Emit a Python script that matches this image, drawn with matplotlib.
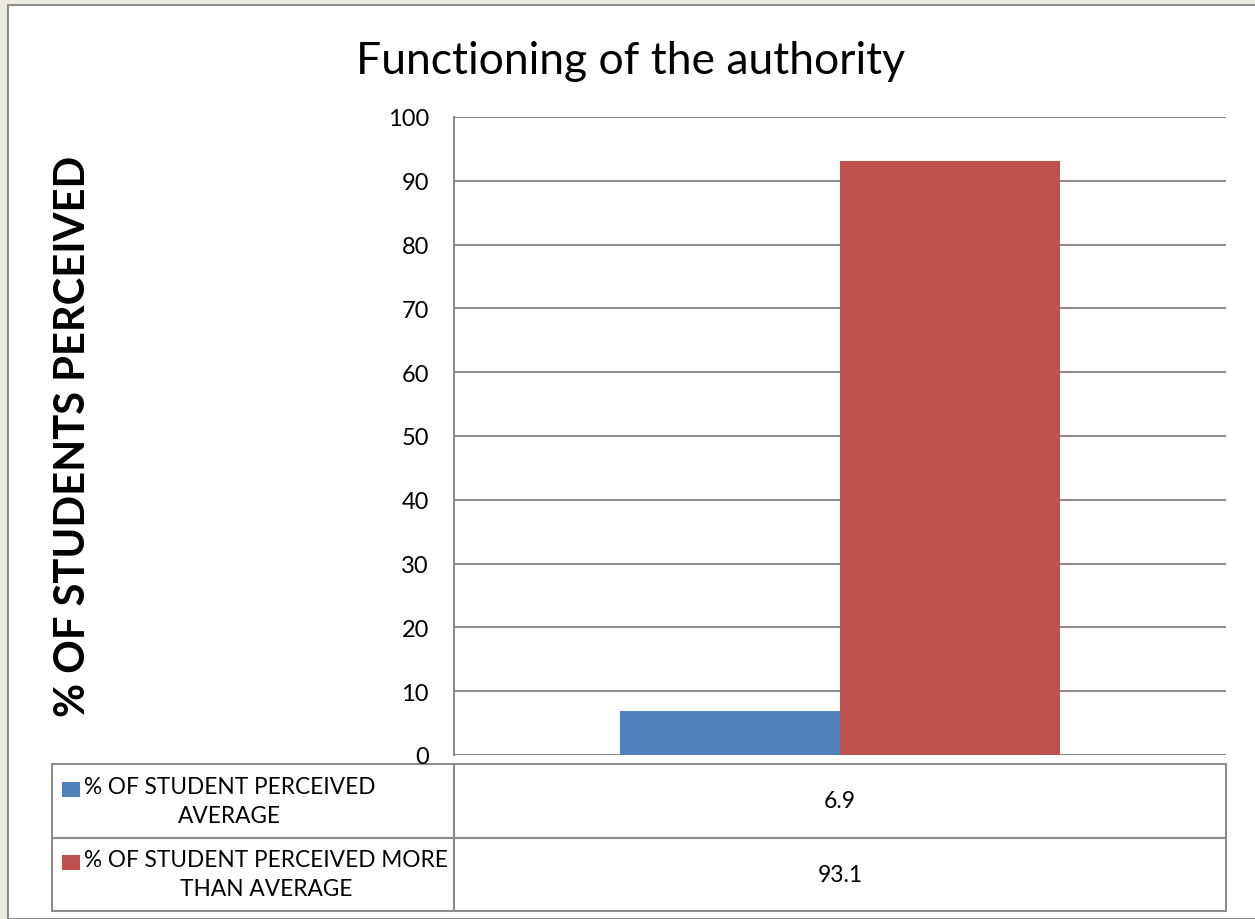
import matplotlib.pyplot as plt
from matplotlib.patches import Rectangle

# datos
series = ["% OF STUDENT PERCEIVED AVERAGE", "% OF STUDENT PERCEIVED MORE THAN AVERAGE"]
etiquetas = ["% OF STUDENT PERCEIVED\nAVERAGE", "% OF STUDENT PERCEIVED MORE\nTHAN AVERAGE"]
valores = [6.9, 93.1]
colores = ["#4F81BD", "#C0504D"]
yticks = [0, 10, 20, 30, 40, 50, 60, 70, 80, 90, 100]

plt.rcParams["font.family"] = ["Lato", "DejaVu Sans"]

W, H = 1255, 920
fig = plt.figure(figsize=(W / 100, H / 100), dpi=100)
fig.patch.set_facecolor("#EEEBE0")

# marco blanco
fig.patches.append(Rectangle((8 / W, 0), 1, 1 - 6 / H, transform=fig.transFigure,
                             facecolor="white", edgecolor="#8C8C8C", linewidth=1.5,
                             zorder=-10))

x0, x1, ytop, ybot = 454, 1226, 118, 756
ax = fig.add_axes([x0 / W, 1 - ybot / H, (x1 - x0) / W, (ybot - ytop) / H])
ax.set_facecolor("white")

ancho = 220 / (x1 - x0)
ax.bar(0 - ancho / 2, valores[0], width=ancho, color=colores[0], zorder=3)
ax.bar(0 + ancho / 2, valores[1], width=ancho, color=colores[1], zorder=3)
ax.set_xlim(-0.5, 0.5)
ax.set_ylim(0, 100)
ax.set_yticks(yticks)
ax.set_yticklabels([str(t) for t in yticks], fontsize=17)
ax.set_xticks([])
ax.grid(axis="y", color="#8C8C8C", linewidth=1.5, zorder=0)
ax.tick_params(axis="y", length=0, pad=18)
for s in ["top", "right", "bottom"]:
    ax.spines[s].set_visible(False)
ax.spines["left"].set_color("#8C8C8C")
ax.spines["left"].set_linewidth(1.5)

ax.set_title("Functioning of the authority", fontsize=32, pad=32, x=0.229)

fig.text(73 / W, 1 - 436 / H, "% OF STUDENTS PERCEIVED", rotation=90,
         fontsize=30, fontweight="bold", ha="center", va="center")

# tabla de datos
h = ybot - ytop
t_left = (52 - x0) / (x1 - x0)
t_top = (ybot - 765) / h
t_bot = (ybot - 912) / h
tabla = ax.table(cellText=[["", f"{v:g}"] for v in valores],
                 colWidths=[(x0 - 52) / (x1 - 52), (x1 - x0) / (x1 - 52)],
                 bbox=[t_left, t_bot, 1 - t_left, t_top - t_bot],
                 cellLoc="center")
tabla.auto_set_font_size(False)
tabla.set_fontsize(16.5)
for (r, c), cell in tabla.get_celld().items():
    cell.set_edgecolor("#8C8C8C")
    cell.set_linewidth(1.5)

# etiquetas de la tabla con su cuadrito de color
fila_h = (t_top - t_bot) / 2
fig.canvas.draw()
inv = ax.transAxes.inverted()
for i, (lab, col) in enumerate(zip(etiquetas, colores)):
    yc = t_top - fila_h * (i + 0.5)
    xl = (84 - x0) / (x1 - x0)
    txt = ax.text(xl, yc, lab, transform=ax.transAxes, ha="left", va="center",
                  fontsize=16.3, multialignment="center", linespacing=1.45)
    fig.canvas.draw()
    bb = txt.get_window_extent()
    # cuadrito en pixeles: 18x15, alineado con la primera linea
    (ax0, ay0) = inv.transform((bb.x0 - 22, bb.y1 - 21))
    (ax1, ay1) = inv.transform((bb.x0 - 4, bb.y1 - 6))
    ax.add_patch(Rectangle((ax0, ay0), ax1 - ax0, ay1 - ay0,
                           transform=ax.transAxes, facecolor=col, clip_on=False))

fig.savefig("out.png", dpi=100, facecolor=fig.get_facecolor())
